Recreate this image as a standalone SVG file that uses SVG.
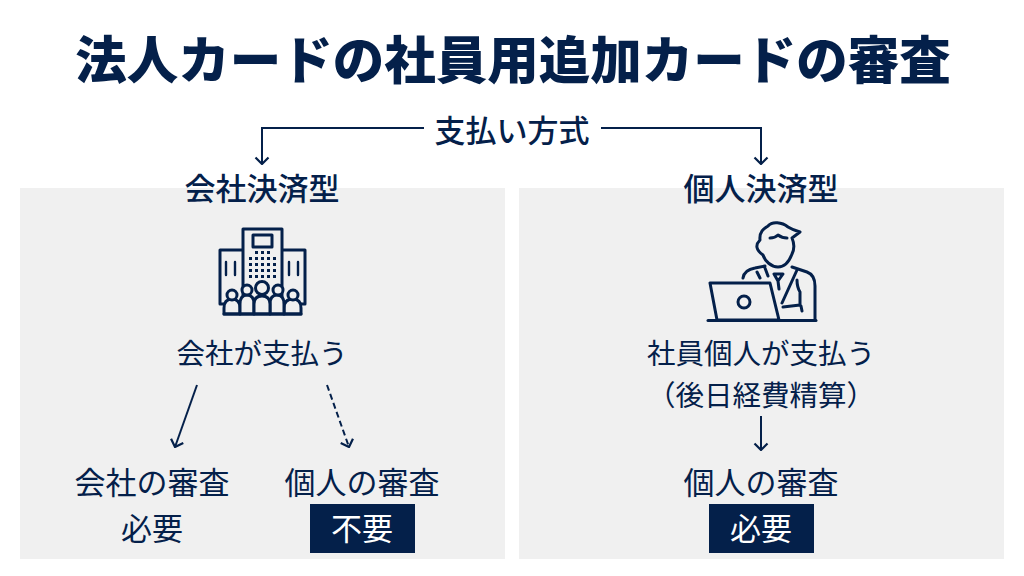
<svg xmlns="http://www.w3.org/2000/svg" width="1024" height="576" viewBox="0 0 1024 576">
<style>
text{font-family:"Noto Sans CJK JP","Noto Sans",sans-serif;fill:#04204a;text-anchor:middle}
.t{font-size:31px;font-weight:500}
.b{font-size:31px;font-weight:400}
.s{font-size:28.500px;font-weight:400}
.title{font-size:51.500px;font-weight:900}
.panel{fill:#f0f0f0}
.badge{fill:#04204a}
.c{fill:none;stroke:#04204a;stroke-width:2}
.i{fill:none;stroke:#04204a;stroke-width:3;stroke-linejoin:round;stroke-linecap:round}
.f{fill:#f0f0f0}
.d{fill:#04204a}
</style>
<defs>
<marker id="a" viewBox="0 0 14 16" refX="13" refY="8" markerWidth="14" markerHeight="16" markerUnits="userSpaceOnUse" orient="auto"><path d="M6.500 1.500L13 8L6.500 14.500" fill="none" stroke="#04204a" stroke-width="2.200"/></marker>
<g id="dots"><rect x="0" width="3" height="3"/><rect x="6" width="3" height="3"/><rect x="12" width="3" height="3"/><rect x="18" width="3" height="3"/><rect x="24" width="3" height="3"/></g>
</defs>
<rect width="1024" height="576" fill="#fff"/>
<text id="title" class="title" x="513" y="79">法人カードの社員用追加カードの審査</text>
<rect class="panel" x="20" y="188" width="485" height="371"/>
<rect class="panel" x="519" y="188" width="485" height="371"/>
<g id="connectors">
<path class="c" d="M424 128H262V164" marker-end="url(#a)"/>
<path class="c" d="M601 128H761V164" marker-end="url(#a)"/>
<path class="c" d="M197 385L175 447" marker-end="url(#a)"/>
<path class="c" d="M327 385L349 447" stroke-dasharray="6 3.500" marker-end="url(#a)"/>
<path class="c" d="M761 416V450" marker-end="url(#a)"/>
</g>
<g id="n-root"><text class="t" x="512" y="142">支払い方式</text></g>
<g id="n-corp"><text class="t" x="262" y="200">会社決済型</text></g>
<g id="n-pers"><text class="t" x="761" y="200">個人決済型</text></g>
<g id="icon-building">
<path class="i" d="M243 296V229H282V296M243 250H220V304H227M282 250H305V304H298"/>
<rect class="i" x="253" y="235" width="19" height="12"/>
<path class="i" style="stroke-width:2.400" d="M226 262V275M235 262V275M289 262V275M298 262V275"/>
<g class="d"><rect x="255" y="251" width="3" height="3"/><rect x="261" y="251" width="3" height="3"/><rect x="267" y="251" width="3" height="3"/>
<use href="#dots" x="249" y="257"/><use href="#dots" x="249" y="263"/><use href="#dots" x="249" y="269"/><use href="#dots" x="249" y="275"/></g>
<path class="i f" d="M224 314V308Q224 299 232 299Q240 299 240 308V314Z"/>
<path class="i f" d="M284 314V308Q284 299 293 299Q301 299 301 308V314Z"/>
<path class="i f" d="M240 314V304Q240 295 247 295Q254 295 254 304V314Z"/>
<path class="i f" d="M270 314V304Q270 295 277 295Q284 295 284 304V314Z"/>
<path class="i f" d="M254 314V304Q254 296 262 296Q270 296 270 304V314Z"/>
<path class="i" d="M224 314H301"/>
<circle class="i f" cx="232" cy="295" r="5"/>
<circle class="i f" cx="247" cy="290" r="5"/>
<circle class="i f" cx="262" cy="288" r="6.500"/>
<circle class="i f" cx="278" cy="290" r="5"/>
<circle class="i f" cx="293" cy="295" r="5"/>
</g>
<g id="icon-person">
<path class="i" d="M760 240C759 231 765 228 768 226C772 221 782 222 788 227C793 230 797 231 800 232L792 238C795 245 794 250 792 254C789 262 784 267 778 267C771 267 765 261 763 255C756 250 755 245 760 240Z"/>
<path class="i" d="M770 238Q775 238 778 235Q782 238 787 238"/>
<path class="i" d="M743 278C744 272 749 269 755 268L765 266M792 267L807 272Q815 275 815 286V320M757 272L760 278M765 268L768 276M774 274H783L778 281ZM778 281L779 289M797 270L782 303M797 280Q797 287 800 292L800 305L783 307M801 306L802 311"/>
<path class="i f" d="M710 283H770L779 320H717Z"/>
<circle class="i" cx="744" cy="302" r="6"/>
<path class="i" d="M708 320.500H816"/>
</g>
<g id="n-pay1"><text class="s" x="262" y="364">会社が支払う</text></g>
<g id="n-pay2"><text class="s" x="761" y="364">社員個人が支払う</text><text class="s" x="761" y="406">（後日経費精算）</text></g>
<g id="n-c1"><text class="b" x="152" y="494">会社の審査</text><text class="b" x="152" y="540">必要</text></g>
<g id="n-c2"><text class="b" x="362" y="494">個人の審査</text><rect class="badge" x="310" y="504" width="105" height="49"/><text class="b" x="362" y="540" style="fill:#fff">不要</text></g>
<g id="n-p"><text class="b" x="761" y="494">個人の審査</text><rect class="badge" x="709" y="504" width="105" height="49"/><text class="b" x="761" y="540" style="fill:#fff">必要</text></g>
</svg>
